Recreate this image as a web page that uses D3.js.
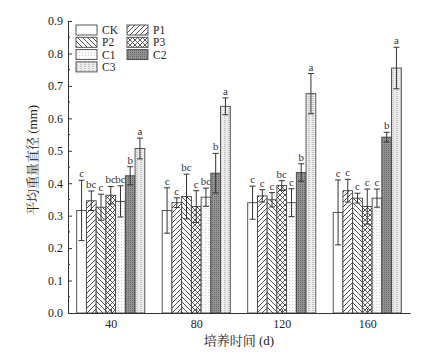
<!DOCTYPE html>
<html><head><meta charset="utf-8">
<script src="https://cdn.jsdelivr.net/npm/d3@7/dist/d3.min.js"></script>
<style>body{margin:0;background:#fff}svg{display:block}</style>
</head><body><div id="chart"></div>
<script>
const days = [40, 80, 120, 160];
const series = ["CK","P1","P2","P3","C1","C2","C3"];
const valCK = [0.316, 0.316, 0.340, 0.310];
const valP1 = [0.346, 0.340, 0.361, 0.377];
const valP2 = [0.326, 0.359, 0.349, 0.354];
const valP3 = [0.363, 0.328, 0.393, 0.328];
const valC1 = [0.344, 0.357, 0.340, 0.354];
const valC2 = [0.423, 0.431, 0.433, 0.542];
const valC3 = [0.507, 0.637, 0.676, 0.755];
const errCK = [0.093, 0.070, 0.051, 0.100];
const errP1 = [0.030, 0.015, 0.019, 0.035];
const errP2 = [0.040, 0.069, 0.022, 0.015];
const errP3 = [0.027, 0.049, 0.015, 0.054];
const errC1 = [0.048, 0.028, 0.043, 0.028];
const errC2 = [0.028, 0.061, 0.027, 0.015];
const errC3 = [0.032, 0.026, 0.062, 0.064];
const letCK = ["c","c","c","c"];
const letP1 = ["bc","c","c","c"];
const letP2 = ["c","bc","c","c"];
const letP3 = ["bc","c","bc","c"];
const letC1 = ["bc","bc","c","c"];
const letC2 = ["b","b","b","b"];
const letC3 = ["a","a","a","a"];
const yTicks = [0,0.1,0.2,0.3,0.4,0.5,0.6,0.7,0.8,0.9];
const yLabel = "平均重量直径 (mm)";
const xLabel = "培养时间 (d)";

const values = [valCK,valP1,valP2,valP3,valC1,valC2,valC3];
const errors = [errCK,errP1,errP2,errP3,errC1,errC2,errC3];
const letters = [letCK,letP1,letP2,letP3,letC1,letC2,letC3];

const W = 430, H = 357;
const serif = "'Liberation Serif','Times New Roman',serif";
const cjk = "'Liberation Serif','Noto Serif CJK SC','Noto Sans CJK SC',serif";
const svg = d3.select("#chart").append("svg").attr("width", W).attr("height", H);

const x = d3.scaleLinear().domain([20, 180]).range([68, 410]);
const y = d3.scaleLinear().domain([0, 0.9]).range([313, 21]);
const barDays = 4.55;
const bw = x(barDays) - x(0);

const defs = svg.append("defs");
function pat(id, w, h, bg, draw) {
  const p = defs.append("pattern").attr("id", id).attr("patternUnits", "userSpaceOnUse")
    .attr("width", w).attr("height", h);
  p.append("rect").attr("width", w).attr("height", h).attr("fill", bg);
  draw(p);
}
pat("pP1", 5, 5, "#fff", p => p.append("path").attr("d", "M0,5L5,0M-1,1L1,-1M4,6L6,4").attr("stroke", "#222").attr("stroke-width", 0.8));
pat("pP2", 5, 5, "#fff", p => p.append("path").attr("d", "M0,0L5,5M4,-1L6,1M-1,4L1,6").attr("stroke", "#222").attr("stroke-width", 0.8));
pat("pP3", 5, 5, "#fff", p => p.append("path").attr("d", "M0,0L5,5M5,0L0,5").attr("stroke", "#222").attr("stroke-width", 0.75));
pat("pC1", 3, 3, "#fbfbfb", p => p.append("rect").attr("x", 1).attr("y", 1).attr("width", 1).attr("height", 1).attr("fill", "#d0d0d0"));
pat("pC2", 2, 2, "#939393", p => p.append("rect").attr("width", 1).attr("height", 1).attr("fill", "#666"));
pat("pC3", 4, 2, "#ececec", p => p.append("rect").attr("width", 2).attr("height", 1).attr("fill", "#c4c4c4"));
const fills = ["#fff","url(#pP1)","url(#pP2)","url(#pP3)","url(#pC1)","url(#pC2)","url(#pC3)"];

// bars
const g = svg.append("g");
series.forEach((s, si) => {
  days.forEach((d, di) => {
    const x0 = x(d) - 3.5 * bw + si * bw;
    const v = values[si][di], e = errors[si][di];
    g.append("rect").attr("x", x0).attr("y", y(v)).attr("width", bw).attr("height", y(0) - y(v))
      .attr("fill", fills[si]).attr("stroke", "#444").attr("stroke-width", 0.9);
    const cx = x0 + bw / 2;
    const eg = g.append("g").attr("stroke", "#333").attr("stroke-width", 1);
    eg.append("line").attr("x1", cx).attr("x2", cx).attr("y1", y(v + e)).attr("y2", y(Math.max(0, v - e)));
    eg.append("line").attr("x1", cx - 3).attr("x2", cx + 3).attr("y1", y(v + e)).attr("y2", y(v + e));
    eg.append("line").attr("x1", cx - 3).attr("x2", cx + 3).attr("y1", y(v - e)).attr("y2", y(v - e));
    g.append("text").attr("x", cx).attr("y", y(v + e) - 3).attr("text-anchor", "middle")
      .attr("font-family", serif).attr("font-size", 11).attr("fill", "#333").text(letters[si][di]);
  });
});

// axes
const yAxis = d3.axisLeft(y).tickValues(yTicks).tickFormat(d3.format(".1f")).tickSizeInner(-4).tickSizeOuter(0).tickPadding(5);
const ya = svg.append("g").attr("transform", `translate(${x.range()[0]},0)`).call(yAxis);
ya.selectAll("text").attr("font-family", serif).attr("font-size", 12).attr("fill", "#222");
ya.select(".domain").attr("stroke", "#333");
ya.selectAll(".tick line").attr("stroke", "#333");
const yMinor = d3.range(0.05, 0.9, 0.1);
svg.append("g").selectAll("line").data(yMinor).join("line")
  .attr("x1", x.range()[0]).attr("x2", x.range()[0] + 2).attr("y1", d => y(d)).attr("y2", d => y(d)).attr("stroke", "#333");

const xAxis = d3.axisBottom(x).tickValues(days).tickFormat(d3.format("d")).tickSizeInner(-4).tickSizeOuter(0).tickPadding(6);
const xa = svg.append("g").attr("transform", `translate(0,${y(0)})`).call(xAxis);
xa.selectAll("text").attr("font-family", serif).attr("font-size", 12).attr("fill", "#222");
xa.select(".domain").attr("stroke", "#333");
xa.selectAll(".tick line").attr("stroke", "#333");

svg.append("text").attr("x", (x.range()[0] + x.range()[1]) / 2 + 0).attr("y", 345).attr("text-anchor", "middle")
  .attr("font-family", cjk).attr("font-size", 13).attr("fill", "#222").text(xLabel);
svg.append("text").attr("transform", `translate(37,160) rotate(-90)`).attr("text-anchor", "middle")
  .attr("font-family", cjk).attr("font-size", 13).attr("fill", "#222").text(yLabel);

// legend
const legOrder = [["CK",0,0],["P1",1,0],["P2",0,1],["P3",1,1],["C1",0,2],["C2",1,2],["C3",0,3]];
const lg = svg.append("g");
legOrder.forEach(([name, col, row]) => {
  const si = series.indexOf(name);
  const lx = 76 + col * 51, ly = 25 + row * 12.3;
  lg.append("rect").attr("x", lx).attr("y", ly).attr("width", 21).attr("height", 10)
    .attr("fill", fills[si]).attr("stroke", "#444").attr("stroke-width", 0.9);
  lg.append("text").attr("x", lx + 26).attr("y", ly + 9).attr("font-family", serif).attr("font-size", 11.5)
    .attr("fill", "#222").text(name);
});
</script></body></html>
